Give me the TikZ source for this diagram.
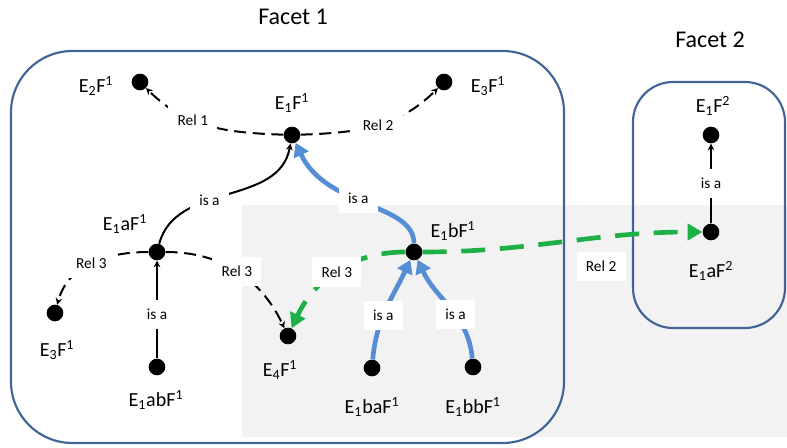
\documentclass[tikz,border=0pt]{standalone}
\usepackage{fontspec}
\setmainfont{Carlito}
\usetikzlibrary{arrows.meta}
\definecolor{facetline}{RGB}{64,100,150}
\definecolor{isablue}{RGB}{85,142,213}
\definecolor{relgreen}{RGB}{30,176,70}
\definecolor{panelgray}{RGB}{242,242,242}
\newcommand{\efacet}[3]{E\textsubscript{#1}#2F\textsuperscript{#3}}
\begin{document}
\begin{tikzpicture}[x=0.75pt, y=-0.75pt,
    dot/.style={circle, fill=black, inner sep=0pt, minimum size=12.5pt},
    ename/.style={font=\fontsize{15}{18}\selectfont},
    reltag/.style={fill=white, inner xsep=7pt, minimum height=22pt, font=\fontsize{11.5}{14}\selectfont},
    relline/.style={line width=1.5pt, dash pattern=on 9pt off 5pt, -{Stealth[length=5pt,width=5pt]}},
    isaline/.style={line width=1.5pt, -{Stealth[length=5pt,width=5pt]}},
    isathick/.style={line width=3.5pt, draw=isablue, -{Triangle[length=10pt,width=12pt,color=isablue]}},
    relthick/.style={line width=3.5pt, draw=relgreen, dash pattern=on 18pt off 11pt, -{Triangle[length=11pt,width=12pt,color=relgreen]}},
    facetbox/.style={draw=facetline, line width=1.6pt}]
    \useasboundingbox (0,0) rectangle (787,448);
    \fill[panelgray] (242,205) rectangle (787,437);
    \draw[facetbox, rounded corners=46pt] (11,51) rectangle (564,443);
    \draw[facetbox, rounded corners=30pt] (633,82) rectangle (785,328);
    \node[font=\fontsize{18}{22}\selectfont] (facet1) at (293,17) {Facet 1};
    \node[font=\fontsize{18}{22}\selectfont] (facet2) at (710,40) {Facet 2};
    % entities
    \node[dot] (e1f1) at (292,135) {};
    \node[dot] (e2f1) at (140,82) {};
    \node[dot] (e3f1) at (444,82) {};
    \node[dot] (e1af1) at (157,252) {};
    \node[dot] (e3f1low) at (55,313) {};
    \node[dot] (e1abf1) at (157,367) {};
    \node[dot] (e4f1) at (288,336) {};
    \node[dot] (e1bf1) at (414,252) {};
    \node[dot] (e1baf1) at (372,368) {};
    \node[dot] (e1bbf1) at (473,367) {};
    \node[dot] (e1f2) at (711,135) {};
    \node[dot] (e1af2) at (711,232) {};
    % names
    \node[ename] (e1f1-n) at (292,103) {\efacet{1}{}{1}};
    \node[ename] (e2f1-n) at (96,86) {\efacet{2}{}{1}};
    \node[ename] (e3f1-n) at (488,86) {\efacet{3}{}{1}};
    \node[ename] (e1af1-n) at (125,224) {\efacet{1}{a}{1}};
    \node[ename] (e3f1low-n) at (57,350) {\efacet{3}{}{1}};
    \node[ename] (e1abf1-n) at (156,400) {\efacet{1}{ab}{1}};
    \node[ename] (e4f1-n) at (280,370) {\efacet{4}{}{1}};
    \node[ename] (e1bf1-n) at (453,231) {\efacet{1}{b}{1}};
    \node[ename] (e1baf1-n) at (372,407) {\efacet{1}{ba}{1}};
    \node[ename] (e1bbf1-n) at (473,407) {\efacet{1}{bb}{1}};
    \node[ename] (e1f2-n) at (713,106) {\efacet{1}{}{2}};
    \node[ename] (e1af2-n) at (711,271) {\efacet{1}{a}{2}};
    % relations
    \draw[relline] (e1f1) to[out=178, in=-45] node[reltag, pos=0.62] {Rel 1} (e2f1);
    \draw[relline] (e1f1) to[out=2, in=-135] node[reltag, pos=0.52] {Rel 2} (e3f1);
    \draw[relline] (e1af1) to[out=180, in=75] node[reltag, pos=0.5] {Rel 3} (e3f1low);
    \draw[relline] (e1af1) to[out=0, in=115] node[reltag, pos=0.5] {Rel 3} (e4f1);
    \draw[isaline] (e1af1) to[out=75, in=-100] node[reltag, pos=0.4] {is a} (e1f1);
    \draw[isaline] (e1abf1) -- node[reltag, pos=0.45] {is a} (e1af1);
    \draw[isaline] (e1af2) -- node[reltag] {is a} (e1f2);
    \draw[isathick] (e1bf1) .. controls +(0,-49) and +(34,73) .. node[reltag, pos=0.55] {is a} (e1f1);
    \draw[isathick] (e1baf1) to[out=85, in=-115] node[reltag, pos=0.42] {is a} (e1bf1);
    \draw[isathick] (e1bbf1) to[out=95, in=-65] node[reltag, pos=0.42] {is a} (e1bf1);
    \draw[relthick] (e1bf1) to[out=180, in=65] node[reltag, pos=0.5] {Rel 3} (e4f1);
    \draw[relthick] (e1bf1) to[out=0, in=180] node[reltag, pos=0.65, below=9pt] {Rel 2} (e1af2);
\end{tikzpicture}
\end{document}
